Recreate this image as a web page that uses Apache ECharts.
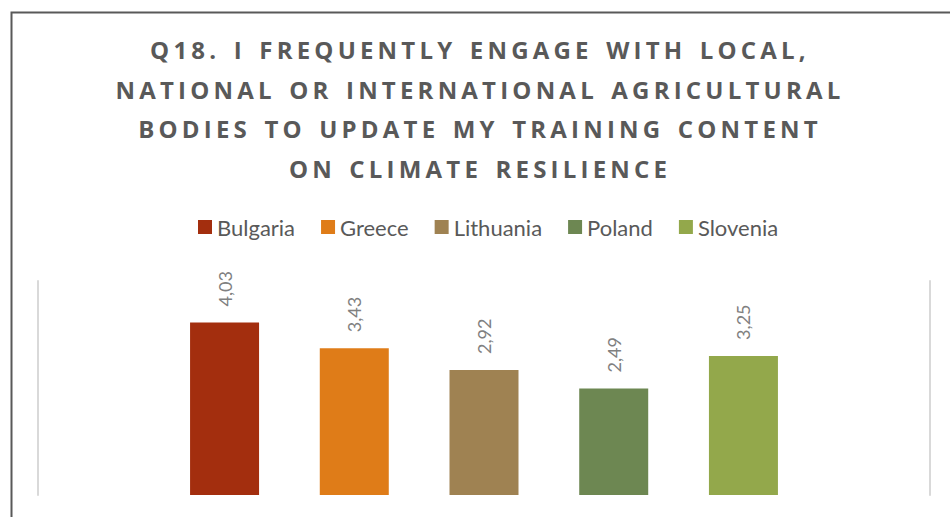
<!DOCTYPE html>
<html>
<head>
<meta charset="utf-8">
<script src="https://cdn.jsdelivr.net/npm/echarts@6/dist/echarts.min.js"></script>
<style>
  html, body { margin: 0; padding: 0; background: #fff; }
  #chart { width: 950px; height: 517px; }
  /* wide tracking for the bold heading */
  #chart text[style*="bold"] { letter-spacing: 4.2px; word-spacing: 3px; }
</style>
</head>
<body>
<div id="chart"></div>
<script>
// Survey answers by country
const titleLines = [
  'Q18. I FREQUENTLY ENGAGE WITH LOCAL,',
  'NATIONAL OR INTERNATIONAL AGRICULTURAL',
  'BODIES TO UPDATE MY TRAINING CONTENT',
  'ON CLIMATE RESILIENCE'
];
const countries = ['Bulgaria', 'Greece', 'Lithuania', 'Poland', 'Slovenia'];
const scores = [4.03, 3.43, 2.92, 2.49, 3.25];
const colors = ['#A32E0E', '#DF7C18', '#9F8252', '#6D8752', '#93A84B'];

const chart = echarts.init(document.getElementById('chart'), null, { renderer: 'svg' });

const series = countries.map((name, i) => ({
  name: name,
  type: 'bar',
  data: [scores[i]],
  barWidth: 69,
  barGap: '88%',
  itemStyle: { color: colors[i] },
  label: {
    show: true,
    position: 'top',
    rotate: 90,
    align: 'left',
    verticalAlign: 'middle',
    distance: 16,
    color: '#808080',
    fontFamily: 'Lato',
    fontSize: 18,
    formatter: p => p.value.toFixed(2).replace('.', ',')
  }
}));

chart.setOption({
  animation: false,
  backgroundColor: '#ffffff',
  title: {
    text: titleLines.join('\n'),
    left: 480,
    textAlign: 'center',
    top: 30,
    padding: 0,
    textStyle: {
      fontFamily: 'Open Sans',
      fontWeight: 'bold',
      fontSize: 24,
      lineHeight: 39.5,
      color: '#595959'
    }
  },
  legend: {
    data: countries,
    top: 216,
    left: 198,
    padding: 0,
    icon: 'rect',
    itemWidth: 14,
    itemHeight: 14,
    itemGap: 26,
    textStyle: { fontFamily: 'Lato', fontSize: 22, color: '#595959' }
  },
  graphic: [{
    type: 'rect',
    left: 9,
    top: 10,
    shape: { width: 1000, height: 600 },
    style: { fill: 'none', stroke: '#595959', lineWidth: 2 },
    silent: true
  }],
  grid: { left: 38, right: 20, top: 281, bottom: 22 },
  xAxis: {
    type: 'category',
    data: [''],
    axisLine: { show: false },
    axisTick: { show: false },
    axisLabel: { show: false }
  },
  yAxis: [{
    type: 'value',
    min: 0,
    max: 5,
    interval: 1,
    position: 'left',
    axisLine: { show: true, lineStyle: { color: '#d9d9d9', width: 2 } },
    axisTick: { show: false },
    axisLabel: { show: false },
    splitLine: { show: false }
  }, {
    type: 'value',
    min: 0,
    max: 5,
    interval: 1,
    position: 'right',
    axisLine: { show: true, lineStyle: { color: '#d9d9d9', width: 2 } },
    axisTick: { show: false },
    axisLabel: { show: false },
    splitLine: { show: false }
  }],
  series: series
});
</script>
</body>
</html>
